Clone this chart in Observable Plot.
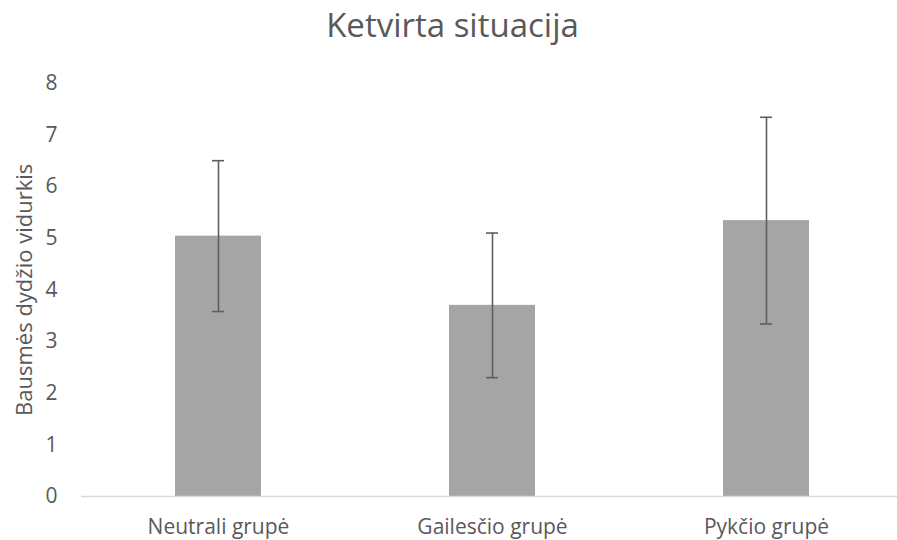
<!DOCTYPE html>
<html>
<head>
<meta charset="utf-8">
<script src="https://cdn.jsdelivr.net/npm/d3@7"></script>
<script src="https://cdn.jsdelivr.net/npm/@observablehq/plot@0.6"></script>
<style>
  html, body { margin: 0; padding: 0; background: #fff; }
  #wrap { position: relative; width: 897px; height: 540px; font-family: "Open Sans", sans-serif; }
  #title { position: absolute; left: 4px; width: 897px; top: 8px; text-align: center; font-size: 33px; line-height: 1; color: #595959; }
  #chart { position: absolute; left: 0; top: 60px; }
</style>
</head>
<body>
<div id="wrap">
  <div id="title">Ketvirta situacija</div>
  <div id="chart"></div>
</div>
<script>
const categories = ["Neutrali grupė", "Gailesčio grupė", "Pykčio grupė"];
const means = [5.04, 3.70, 5.34];
const errors = [1.46, 1.40, 2.00];
const yTicks = [0, 1, 2, 3, 4, 5, 6, 7, 8];
const yLabel = "Bausmės dydžio vidurkis";

const data = categories.map((c, i) => ({
  group: c,
  mean: means[i],
  lo: means[i] - errors[i],
  hi: means[i] + errors[i]
}));

const chart = Plot.plot({
  width: 897,
  height: 480,
  marginLeft: 81,
  marginRight: 0,
  marginTop: 22.7,
  marginBottom: 44,
  style: { fontFamily: "'Open Sans', sans-serif", fontSize: "21px", color: "#595959", background: "white" },
  x: { domain: categories, range: [81, 903], paddingInner: 0.686, paddingOuter: 0.343 },
  y: { domain: [0, 8] },
  marks: [
    Plot.barY(data, { x: "group", y: "mean", fill: "#a5a5a5" }),
    Plot.ruleY([0], { stroke: "#d9d9d9", strokeWidth: 1.5 }),
    Plot.ruleX(data, { x: "group", y1: "lo", y2: "hi", stroke: "#5f5f5f", strokeWidth: 1.6 }),
    Plot.tickY(data, { x: "group", y: "lo", insetLeft: 37, insetRight: 37, stroke: "#5f5f5f", strokeWidth: 1.6 }),
    Plot.tickY(data, { x: "group", y: "hi", insetLeft: 37, insetRight: 37, stroke: "#5f5f5f", strokeWidth: 1.6 }),
    Plot.axisY({ ticks: yTicks, tickSize: 0, tickPadding: 24, label: null, fontSize: 21 }),
    Plot.axisX({ tickSize: 0, tickPadding: 23, label: null, fontSize: 21 }),
    Plot.text([yLabel], { frameAnchor: "left", rotate: -90, dx: -57, fontSize: 22, fill: "#595959", textAnchor: "middle" })
  ]
});
document.getElementById("chart").appendChild(chart);
</script>
</body>
</html>
